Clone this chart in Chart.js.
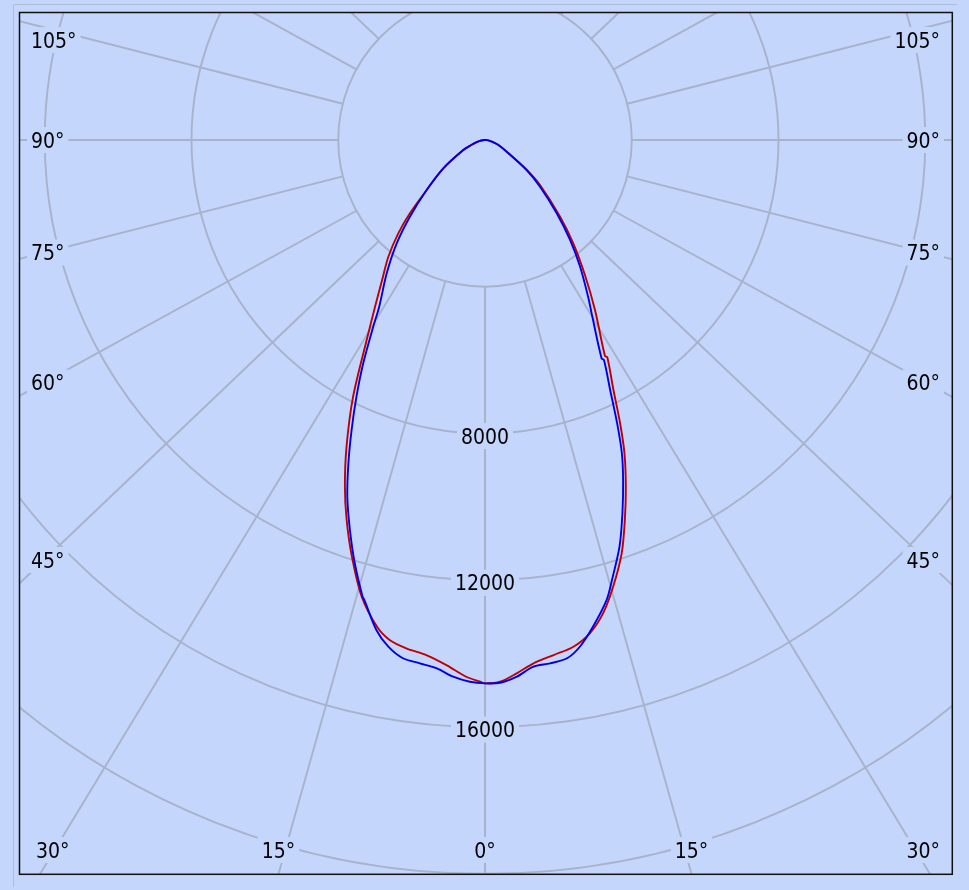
<!DOCTYPE html>
<html><head><meta charset="utf-8">
<script src="https://cdn.jsdelivr.net/npm/chart.js@4.4.0/dist/chart.umd.min.js"></script>
<style>
html,body{margin:0;padding:0;background:#c4d6fb;}
canvas{display:block;}
</style></head><body>
<canvas id="c" width="969" height="890"></canvas>
<script>
// ---- data (angle in degrees from nadir, negative = left half; intensity in cd) ----
const redAngles = [-90,-85,-80,-75,-70,-65.3,-55.8,-49.4,-45.7,-42.9,-39.6,-36.1,-33.4,-30.6,-27.2,-24.3,-22.0,-20.0,-17.7,-15.1,-12.5,-10.8,-8.8,-6.5,-4.2,-2.0,-0.5,0,1.6,3.4,5.3,7.6,9.9,12.0,14.0,16.0,18.3,20.2,22.1,24.0,25.5,27.2,29.37,29.05,32.9,36.5,40.5,44.4,50.7,54.3,61.7,70,75,80,85,90];
const redValues = [0,60,140,250,400,651,1374,2094,2859,3472,4132,4780,5444,6335,7865,9171,10193,11024,11926,12896,13592,13873,14020,14129,14350,14639,14767,14810,14772,14563,14325,14162,14020,13747,13300,12670,11866,11040,10203,9347,8554,7660,6798,6736,5520,4580,3705,2925,1938,1400,672,380,240,130,55,0];
const blueAngles = [-90,-85,-80,-75,-70,-65.3,-55.8,-49.4,-44.4,-40.5,-36.4,-32.4,-30.9,-28.6,-26.6,-24.7,-22.9,-21.1,-19.1,-17.1,-15.0,-14.7,-12.5,-10.8,-9.0,-7.1,-5.2,-3.4,-1.6,0,1.6,3.4,5.2,7.1,9.0,10.6,12.5,14.8,16.1,18.3,20.2,22.1,23.6,25.0,26.6,28.4,28.1,31.6,33.4,36.9,40.4,44.4,49.7,54.3,61.7,70,75,80,85,90];
const blueValues = [0,60,140,250,400,651,1374,2094,2925,3705,4514,5381,5932,6932,7824,8701,9568,10424,11250,12071,12890,12960,13679,14061,14303,14374,14461,14655,14772,14810,14800,14655,14418,14374,14303,14053,13592,12971,12482,11676,10847,10007,9318,8524,7619,6818,6748,5547,5100,4318,3577,2795,1967,1400,672,380,240,130,55,0];
const ringValues = [4000, 8000, 12000, 16000, 20000];
const ringLabelValues = [8000, 12000, 16000];
const spokeAngles = [0,15,30,45,60,75,90,105,120,135,150,165,180];
const angleLabelValues = [0,15,30,45,60,75,90,105];

// ---- style ----
const BG = '#c4d6fb';
const GRID = '#a8b2ca';
const FONT = "21px 'DejaVu Sans Condensed', 'DejaVu Sans', sans-serif";
const STRETCH = 1.05;

function toXY(angles, values){
  return angles.map((a,i)=>{
    const t = a*Math.PI/180;
    return {x: values[i]*Math.sin(t), y: values[i]*Math.cos(t)};
  });
}

const polarGrid = {
  id:'polarGrid',
  beforeDraw(chart){
    const ctx = chart.ctx;
    ctx.save();
    ctx.fillStyle = BG;
    ctx.fillRect(0,0,chart.width,chart.height);
    ctx.strokeStyle = '#aebcda';
    ctx.lineWidth = 1;
    ctx.beginPath();
    ctx.moveTo(13.5, 887); ctx.lineTo(13.5, 4.5); ctx.lineTo(957, 4.5);
    ctx.stroke();
    ctx.restore();
  },
  beforeDatasetsDraw(chart){
    const {ctx, chartArea:a, scales:{x, y}} = chart;
    const cx = x.getPixelForValue(0), cy = y.getPixelForValue(0);
    const rad = v => x.getPixelForValue(v) - cx;
    ctx.save();
    ctx.beginPath(); ctx.rect(a.left, a.top, a.right-a.left, a.bottom-a.top); ctx.clip();
    ctx.strokeStyle = GRID; ctx.lineWidth = 1.9;
    ringValues.forEach(v=>{ ctx.beginPath(); ctx.arc(cx, cy, rad(v), 0, Math.PI*2); ctx.stroke(); });
    const r0 = rad(ringValues[0]);
    const dirs = [];
    spokeAngles.forEach(g=>[-1,1].forEach(s=>{
      const t = g*Math.PI/180;
      let dx = s*STRETCH*Math.sin(t), dy = Math.cos(t);
      const n = Math.hypot(dx,dy); dx/=n; dy/=n;
      dirs.push({g,s,dx,dy});
      ctx.beginPath(); ctx.moveTo(cx+dx*r0, cy+dy*r0); ctx.lineTo(cx+dx*3000, cy+dy*3000); ctx.stroke();
    }));
    // labels
    ctx.font = FONT;
    ctx.textBaseline = 'alphabetic';
    const drawLabel = (txt, left, yc)=>{
      const w = ctx.measureText(txt).width;
      ctx.fillStyle = BG;
      ctx.fillRect(left-4, yc-13, w+8, 26);
      ctx.fillStyle = '#000';
      ctx.textAlign = 'left';
      ctx.fillText(txt, left, yc+7.6);
    };
    ringLabelValues.forEach(v=>{
      const txt = String(v);
      const w = ctx.measureText(txt).width;
      drawLabel(txt, cx - w/2, cy + rad(v) + 2.5);
    });
    angleLabelValues.forEach(g=>{
      [-1,1].forEach(s=>{
        if (g===0 && s===1) return;
        const d = dirs.find(o=>o.g===g && o.s===s);
        const txt = g + '°';
        const w = ctx.measureText(txt).width;
        let xb = null;
        if (d.dy > 0) xb = cx + d.dx/d.dy*(a.bottom - cy);
        if (xb !== null && xb >= a.left && xb <= a.right) {
          let left = xb - w/2;
          left = Math.max(left, a.left + 16);
          left = Math.min(left, a.right - 12 - w);
          drawLabel(txt, left, a.bottom - 24);
        } else {
          const xs = s < 0 ? a.left + 24 : a.right - 26;
          let yc = cy + d.dy/d.dx*(xs - cx);
          yc = Math.max(yc, a.top + 27);
          const left = s < 0 ? a.left + 11 : a.right - 12 - w;
          drawLabel(txt, left, yc);
        }
      });
    });
    ctx.restore();
  },
  afterDatasetsDraw(chart){
    const {ctx, chartArea:a} = chart;
    ctx.save();
    ctx.strokeStyle = '#111';
    ctx.lineWidth = 1.5;
    ctx.strokeRect(a.left-0.5, a.top-0.5, a.right-a.left+0.8, a.bottom-a.top+0.8);
    ctx.restore();
  }
};

new Chart(document.getElementById('c'), {
  type: 'scatter',
  data: {
    datasets: [
      {label:'C90-C270', data: toXY(blueAngles, blueValues), showLine:true, borderColor:'#0000e8', borderWidth:1.9, pointRadius:0, tension:0.3, fill:false, order:0},
      {label:'C0-C180', data: toXY(redAngles, redValues), showLine:true, borderColor:'#c00000', borderWidth:1.9, pointRadius:0, tension:0.3, fill:false, order:1}
    ]
  },
  options: {
    responsive:false, animation:false, devicePixelRatio:1,
    layout:{padding:{left:20, top:13, right:17, bottom:16}},
    scales:{
      x:{type:'linear', min:-12674, max:12729, display:false},
      y:{type:'linear', min:-3462, max:20007, reverse:true, display:false}
    },
    plugins:{legend:{display:false}, tooltip:{enabled:false}},
    events:[]
  },
  plugins:[polarGrid]
});
</script>
</body></html>
